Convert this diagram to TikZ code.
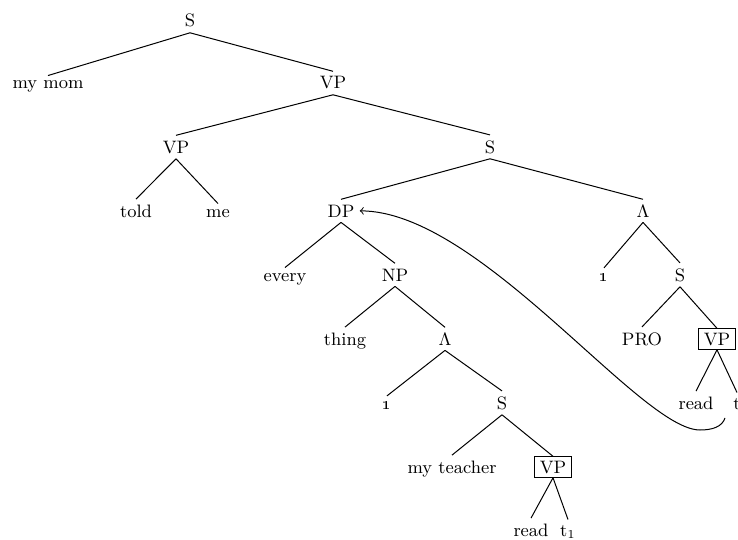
\documentclass[tikz,border=0pt]{standalone}
\begin{document}
\begin{tikzpicture}[x=0.5pt,y=-0.5pt,
  every node/.style={font=\fontsize{9}{11}\selectfont},
  tn/.style={anchor=base,inner sep=2.5pt},
  boxed/.style={tn,draw,inner xsep=2.8pt,inner ysep=2pt},
  edge/.style={line width=0.5pt}]
\useasboundingbox (0,0) rectangle (738,540);
% level 0-2
\node[tn] (S0) at (190,27) {S};
\node[tn] (mom) at (48,89) {my mom};
\node[tn] (VP1) at (333,89) {VP};
\node[tn] (VP2) at (176,153) {VP};
\node[tn] (S1) at (490,153) {S};
% level 3
\node[tn] (told) at (136,217) {told};
\node[tn] (me) at (218,217) {me};
\node[tn] (DP) at (341,217) {DP};
\node[tn] (L1) at (643,217) {$\Lambda$};
% level 4
\node[tn] (every) at (285,281) {every};
\node[tn] (NP) at (395,281) {NP};
\node[tn] (one1) at (604,281) {\oldstylenums{1}};
\node[tn] (S2) at (680,281) {S};
% level 5
\node[tn] (thing) at (345,345) {thing};
\node[tn] (L2) at (445,345) {$\Lambda$};
\node[tn] (PRO) at (642,345) {PRO};
\node[boxed] (VP3) at (717,345) {VP};
% level 6
\node[tn] (one2) at (387,409) {\oldstylenums{1}};
\node[tn] (S3) at (502,409) {S};
\node[tn] (read1) at (696,409) {read};
\node[tn] (t) at (737,409) {t};
% level 7-8
\node[tn] (teacher) at (452,473) {my teacher};
\node[boxed] (VP4) at (553,473) {VP};
\node[tn] (read2) at (531,536) {read};
\node[tn] (t1) at (568,536) {t$_1$};
% branches
\draw[edge] (S0.south) -- (mom.north);
\draw[edge] (S0.south) -- (VP1.north);
\draw[edge] (VP1.south) -- (VP2.north);
\draw[edge] (VP1.south) -- (S1.north);
\draw[edge] (VP2.south) -- (told.north);
\draw[edge] (VP2.south) -- (me.north);
\draw[edge] (S1.south) -- (DP.north);
\draw[edge] (S1.south) -- (L1.north);
\draw[edge] (DP.south) -- (every.north);
\draw[edge] (DP.south) -- (NP.north);
\draw[edge] (L1.south) -- (one1.north);
\draw[edge] (L1.south) -- (S2.north);
\draw[edge] (NP.south) -- (thing.north);
\draw[edge] (NP.south) -- (L2.north);
\draw[edge] (S2.south) -- (PRO.north);
\draw[edge] (S2.south) -- (VP3.north);
\draw[edge] (L2.south) -- (one2.north);
\draw[edge] (L2.south) -- (S3.north);
\draw[edge] (VP3.south) -- (read1.north);
\draw[edge] (VP3.south) -- (t.north);
\draw[edge] (S3.south) -- (teacher.north);
\draw[edge] (S3.south) -- (VP4.north);
\draw[edge] (VP4.south) -- (read2.north);
\draw[edge] (VP4.south) -- (t1.north);
% movement arrow
\coordinate (tfoot) at (725,418);
\coordinate (loop) at (700,430);
\draw[edge,->] (tfoot) .. controls (722,427) and (712,430) .. (loop)
  .. controls (640,430) and (480,211) .. (DP.east);
\end{tikzpicture}
\end{document}
